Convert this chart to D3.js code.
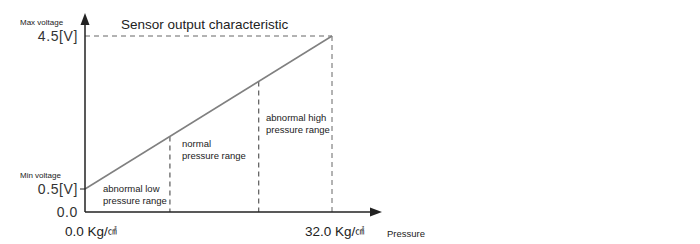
<!DOCTYPE html>
<html>
<head>
<meta charset="utf-8">
<script src="https://cdn.jsdelivr.net/npm/d3@7"></script>
<style>
  body { margin: 0; background: #fff; }
  text { font-family: "Liberation Sans", Arial, sans-serif; fill: #222; }
</style>
</head>
<body>
<div id="chart"></div>
<script>
// sensor characteristic: pressure (Kg/cm2) -> voltage (V)
const pressurePts = [0, 32];
const voltagePts = [0.5, 4.5];
const rangeBounds = [11, 22.5];        // pressure where the ranges split
const yTicks = [0, 0.5, 4.5];
const yTickLabels = ["0.0", "0.5[V]", "4.5[V]"];
const rangeLabels = [
  ["abnormal low", "pressure range"],
  ["normal", "pressure range"],
  ["abnormal high", "pressure range"]
];

const W = 700, H = 244;
const svg = d3.select("#chart").append("svg").attr("width", W).attr("height", H);

const x = d3.scaleLinear().domain([0, 32]).range([85, 332]);
const y = d3.scaleLinear().domain([0, 0.5, 4.5]).range([212, 189, 36]);
const volt = d3.scaleLinear().domain(pressurePts).range(voltagePts);

const axisColor = "#222", lineColor = "#808080", dashColor = "#666";

// dashed guides for max point
svg.append("line")
  .attr("x1", x(0)).attr("x2", x(32)).attr("y1", y(4.5)).attr("y2", y(4.5))
  .attr("stroke", dashColor).attr("stroke-dasharray", "5,4");
svg.append("line")
  .attr("x1", x(32)).attr("x2", x(32)).attr("y1", y(4.5)).attr("y2", y(0))
  .attr("stroke", dashColor).attr("stroke-dasharray", "5,4");

// range boundaries
rangeBounds.forEach(p => {
  svg.append("line")
    .attr("x1", x(p)).attr("x2", x(p)).attr("y1", y(volt(p))).attr("y2", y(0))
    .attr("stroke", dashColor).attr("stroke-width", 1.3).attr("stroke-dasharray", "5,4");
});

// characteristic line
svg.append("path")
  .datum(pressurePts.map((p, i) => [p, voltagePts[i]]))
  .attr("d", d3.line().x(d => x(d[0])).y(d => y(d[1])))
  .attr("fill", "none").attr("stroke", lineColor).attr("stroke-width", 1.5);

// axes
svg.append("line").attr("x1", x(0)).attr("x2", 372).attr("y1", y(0)).attr("y2", y(0))
  .attr("stroke", axisColor).attr("stroke-width", 1.5);
svg.append("path").attr("d", `M382,${y(0)} L370,${y(0) - 4.5} L370,${y(0) + 4.5} Z`).attr("fill", axisColor);
svg.append("line").attr("x1", x(0)).attr("x2", x(0)).attr("y1", y(0)).attr("y2", 22)
  .attr("stroke", axisColor).attr("stroke-width", 1.5);
svg.append("path").attr("d", `M${x(0)},13 L${x(0) - 4.5},25 L${x(0) + 4.5},25 Z`).attr("fill", axisColor);

// small tick at 0.5V
svg.append("line").attr("x1", x(0) - 5).attr("x2", x(0)).attr("y1", y(0.5)).attr("y2", y(0.5))
  .attr("stroke", axisColor);

// y labels
yTicks.forEach((v, i) => {
  svg.append("text").attr("x", 78).attr("y", y(v) + 5)
    .attr("text-anchor", "end").style("font-size", "14px").style("letter-spacing", "0.6px")
    .style("fill", "#333").text(yTickLabels[i]);
});
svg.append("text").attr("x", 20).attr("y", 25).style("font-size", "8px").text("Max voltage");
svg.append("text").attr("x", 20).attr("y", 178).style("font-size", "8px").text("Min voltage");

// title
svg.append("text").attr("x", 121).attr("y", 29).style("font-size", "13.5px")
  .text("Sensor output characteristic");

// x labels
[0, 32].forEach(p => {
  const t = svg.append("text").attr("x", x(p) + (p === 0 ? -20 : -27)).attr("y", 236)
    .style("font-size", "13.5px");
  t.append("tspan").text(`${p.toFixed(1)} Kg/`);
  t.append("tspan").style("font-size", "9px").attr("dy", -2)
    .style("font-family", "'Noto Sans CJK KR', sans-serif").text("㎠");
});
svg.append("text").attr("x", 387).attr("y", 237).style("font-size", "9.5px").text("Pressure");

// range labels
const labelPos = [[103, 192], [182, 147], [266, 121]];
rangeLabels.forEach((lines, i) => {
  lines.forEach((s, j) => {
    svg.append("text").attr("x", labelPos[i][0]).attr("y", labelPos[i][1] + j * 12)
      .style("font-size", "9.5px").text(s);
  });
});
</script>
</body>
</html>
